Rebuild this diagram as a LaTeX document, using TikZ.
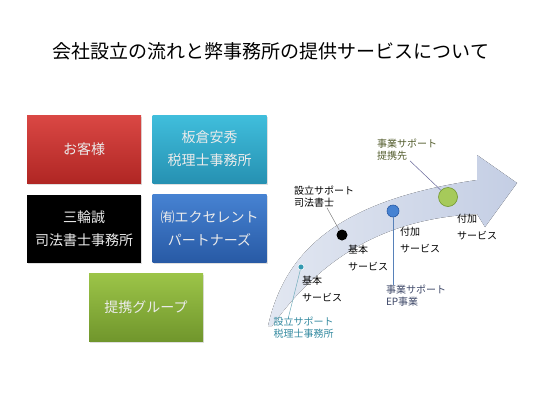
\documentclass[tikz,border=0pt]{standalone}
\usepackage{fontspec}
\setmainfont{Noto Sans CJK JP}
\usetikzlibrary{positioning,shadows}

\definecolor{redtop}{RGB}{218,72,68}
\definecolor{redbot}{RGB}{176,38,36}
\definecolor{cyantop}{RGB}{64,190,220}
\definecolor{cyanbot}{RGB}{38,145,178}
\definecolor{bluetop}{RGB}{70,130,210}
\definecolor{bluebot}{RGB}{40,90,165}
\definecolor{greentop}{RGB}{156,196,72}
\definecolor{greenbot}{RGB}{112,150,44}
\definecolor{swooshL}{RGB}{226,231,241}
\definecolor{swooshR}{RGB}{196,206,228}
\definecolor{tealtxt}{RGB}{52,138,160}
\definecolor{slatetxt}{RGB}{62,72,104}
\definecolor{olivetxt}{RGB}{82,92,44}

\begin{document}
\begin{tikzpicture}[x=1pt, y=-1pt,
    firm/.style={minimum width=114pt, minimum height=68pt, inner sep=0pt, align=center,
      text=white!92!black, font=\fontsize{14}{23}\selectfont,
      drop shadow={opacity=0.25, shadow xshift=1pt, shadow yshift=-1.5pt}},
    dot/.style={circle, inner sep=0pt, line width=0.6pt},
    note/.style={align=left, inner sep=0pt, font=\fontsize{10}{12}\selectfont},
    svc/.style={align=left, inner sep=0pt, font=\fontsize{10}{17}\selectfont},
    lead/.style={line width=0.5pt}
]
\useasboundingbox (0,0) rectangle (540,405);

\node[font=\fontsize{19}{19}\selectfont] (title) at (271,51) {会社設立の流れと弊事務所の提供サービスについて};

% partner boxes
\node[firm, top color=redtop, bottom color=redbot] (client) at (84,149) {お客様};
\node[firm, top color=cyantop, bottom color=cyanbot] (zeiri) at (209.5,149) {板倉安秀\\税理士事務所};
\node[firm, fill=black] (miwa) at (84,228.5) {三輪誠\\司法書士事務所};
\node[firm, top color=bluetop, bottom color=bluebot] (excel) at (209.5,228.5) {㈲エクセレント\\パートナーズ};
\node[firm, top color=greentop, bottom color=greenbot] (group) at (146,307.5) {提携グループ};

% flow arrow
\fill[left color=swooshL, right color=swooshR]
  (268,326) .. controls (285,250) and (340,200) .. (477,180)
  -- (477,155) -- (517,183) -- (485,227) -- (477,214)
  .. controls (400,218) and (330,245) .. (272,326) -- cycle;

\node[dot, minimum size=6pt, fill=cyantop!80!black, draw=white] (d1) at (301,267) {};
\node[dot, minimum size=11pt, fill=black] (d2) at (342,235) {};
\node[dot, minimum size=12pt, fill=bluetop, draw=bluebot] (d3) at (393,211) {};
\node[dot, minimum size=19pt, fill=greentop!90!white, draw=greenbot] (d4) at (448,197) {};

\node[note, text=tealtxt] (setz) at (303.5,328) {設立サポート\\税理士事務所};
\node[note] (sets) at (324,197) {設立サポート\\司法書士};
\node[note, text=slatetxt] (ep) at (416,295.5) {事業サポート\\EP事業};
\node[note, text=olivetxt] (teikei) at (407,150) {事業サポート\\提携先};

\node[svc] (kihon1) at (322,289) {基本\\サービス};
\node[svc] (kihon2) at (368,258) {基本\\サービス};
\node[svc] (fuka1) at (420,240) {付加\\サービス};
\node[svc] (fuka2) at (477,227) {付加\\サービス};

% leaders
\draw[lead, tealtxt!70!white] ([xshift=-15pt]setz.north) -- (d1);
\draw[lead, gray] ([xshift=3pt]sets.south) -- (d2);
\draw[lead, bluetop!70!gray] (d3) -- (d3 |- ep.north);
\draw[lead, gray!80!blue] ([xshift=3pt]teikei.south) -- (d4);
\end{tikzpicture}
\end{document}
